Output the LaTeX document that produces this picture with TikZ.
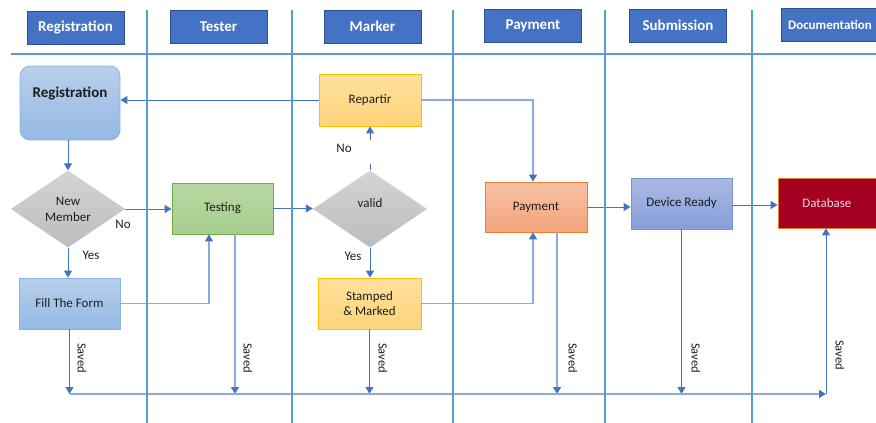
\documentclass[tikz,border=0pt]{standalone}
\usepackage{fontspec}
\setmainfont{Carlito}
\usetikzlibrary{arrows.meta,shapes.geometric,positioning}
\definecolor{hdrblue}{RGB}{68,114,196}
\definecolor{hdrdark}{RGB}{47,82,143}
\definecolor{lanecol}{RGB}{91,155,213}
\definecolor{arcol}{RGB}{68,114,196}
\definecolor{lnkcol}{RGB}{140,170,222}
\definecolor{txtcol}{RGB}{30,30,30}
\tikzset{
  lanehead/.style={rectangle, draw=hdrdark, line width=0.8pt, fill=hdrblue,
    text=white, minimum width=97pt, minimum height=33pt,
    font=\fontsize{15}{17}\selectfont\bfseries},
  lane/.style={draw=lanecol, line width=2.5pt},
  box/.style={rectangle, line width=0.8pt, minimum width=101pt,
    minimum height=51pt, align=center, text=txtcol,
    font=\fontsize{13}{15.5}\selectfont},
  bluebox/.style={box, draw={rgb,255:red,140;green,178;blue,225},
    top color={rgb,255:red,184;green,207;blue,236},
    bottom color={rgb,255:red,148;green,185;blue,228}},
  greenbox/.style={box, draw={rgb,255:red,112;green,173;blue,71},
    top color={rgb,255:red,184;green,216;blue,163},
    bottom color={rgb,255:red,166;green,206;blue,141}},
  yelbox/.style={box, draw={rgb,255:red,255;green,192;blue,0},
    top color={rgb,255:red,255;green,224;blue,158},
    bottom color={rgb,255:red,255;green,212;blue,122}},
  salbox/.style={box, draw={rgb,255:red,237;green,125;blue,49},
    top color={rgb,255:red,248;green,194;blue,166},
    bottom color={rgb,255:red,243;green,164;blue,124}},
  devbox/.style={box, draw={rgb,255:red,120;green,150;blue,212},
    top color={rgb,255:red,170;green,185;blue,228},
    bottom color={rgb,255:red,134;green,160;blue,216}},
  dbbox/.style={box, draw={rgb,255:red,237;green,125;blue,49},
    fill={rgb,255:red,165;green,0;blue,33},
    text={rgb,255:red,236;green,214;blue,224}},
  dec/.style={diamond, aspect=1.5, minimum width=114pt, minimum height=77pt,
    inner sep=0pt, align=center, text=txtcol,
    top color={rgb,255:red,212;green,212;blue,212},
    bottom color={rgb,255:red,188;green,188;blue,188},
    font=\fontsize{13}{16}\selectfont},
  ar/.style={-{Triangle[length=7pt,width=8pt]}, draw=arcol, line width=1pt},
  arl/.style={-{Triangle[length=7pt,width=8pt,color=arcol]}, draw=lnkcol,
    line width=1.4pt},
  stub/.style={draw=arcol, line width=1pt},
  lbl/.style={text=txtcol, font=\fontsize{13}{15}\selectfont},
  saved/.style={rotate=-90, text=txtcol, font=\fontsize{12.5}{14}\selectfont},
}

\begin{document}
\begin{tikzpicture}[x=1pt, y=-1pt]
\useasboundingbox (0,0) rectangle (876,423);

% lane headers
\node[lanehead] (hreg) at (75.5,27.5) {Registration};
\node[lanehead] (htest) at (218.5,26.5) {Tester};
\node[lanehead] (hmark) at (372.5,26.5) {Marker};
\node[lanehead] (hpay) at (533,25.5) {Payment};
\node[lanehead] (hsub) at (678,25.5) {Submission};
\node[lanehead, font=\fontsize{13}{15}\selectfont\bfseries] (hdoc) at (830,25) {Documentation};

% steps
\node[bluebox, rounded corners=10pt, minimum width=100pt, minimum height=74pt,
  label={[text=txtcol, font=\fontsize{15}{17}\selectfont\bfseries, yshift=10pt]center:Registration}]
  (reg) at (70,103) {};
\node[dec] (newm) at (68,209) {New\\Member};
\node[bluebox] (form) at (69.5,303.5) {Fill The Form};
\node[greenbox] (test) at (222.5,208.5) {Testing};
\node[dec] (valid) at (370,209) {valid\\[-4pt]};
\node[yelbox, minimum width=102pt, minimum height=52pt] (rep) at (370,100) {Repartir};
\node[yelbox, minimum width=103pt] (stamp) at (369.5,303.5) {Stamped\\\& Marked};
\node[salbox, minimum width=102pt, minimum height=50pt] (pay) at (536,207) {Payment};
\node[devbox] (dev) at (681.5,203.5) {Device Ready};
\node[dbbox, minimum height=50pt] (db) at (828.5,203) {Database\textcolor{black}{.}};

% helper points
\coordinate (bus) at (0,394);
\coordinate (busend) at (826,394);
\coordinate (t1) at ([xshift=12.5pt]test.south);
\coordinate (p1) at ([xshift=21pt]pay.south);
\coordinate (vno) at (370,140);

% flow
\draw[ar] (rep.west) -- (rep.west -| reg.east);
\draw[ar] (newm.north |- reg.south) -- (newm.north);
\draw[ar] (newm.east) -- (newm.east -| test.west);
\draw[ar] (newm.south) -- (newm.south |- form.north);
\draw[arl] (form.east) -| ([xshift=-13.5pt]test.south);
\draw[ar] (test.east) -- (test.east -| valid.west);
\draw[stub] (valid.north) -- ++(0,-6);
\draw[ar] (vno) -- (rep.south);
\draw[ar] (valid.south) -- (valid.south |- stamp.north);
\draw[arl] (rep.east) -| ([xshift=-3pt]pay.north);
\draw[arl] (stamp.east) -| ([xshift=-3pt]pay.south);
\draw[ar] (pay.east) -- (pay.east -| dev.west);
\draw[ar] ([yshift=-1.5pt]dev.east) -- ([yshift=-1.5pt]dev.east -| db.west);

% saved to database
\draw[ar] (form.south) -- (form.south |- bus);
\draw[arl] (t1) -- (t1 |- bus);
\draw[ar] (stamp.south) -- (stamp.south |- bus);
\draw[arl] (p1) -- (p1 |- bus);
\draw[ar] (dev.south) -- (dev.south |- bus);
\draw[arl] (form.south |- bus) -- (busend);
\draw[ar] (busend) -- (busend |- db.south);

% labels
\node[lbl] (no1) at (123,224) {No};
\node[lbl] (yes1) at (91,255) {Yes};
\node[lbl] (no2) at (344,148) {No};
\node[lbl] (yes2) at (353,256) {Yes};
\node[saved] (s1) at (82,358) {Saved};
\node[saved] (s2) at (248,358) {Saved};
\node[saved] (s3) at (383,358) {Saved};
\node[saved] (s4) at (573,358) {Saved};
\node[saved] (s5) at (696,358) {Saved};
\node[saved] (s6) at (840,355) {Saved};

% swimlanes
\draw[lane] (11,54) -- (876,54);
\foreach \x in {147,292,453,605,752}
  \draw[lane] (\x,10) -- (\x,425);

\end{tikzpicture}
\end{document}
